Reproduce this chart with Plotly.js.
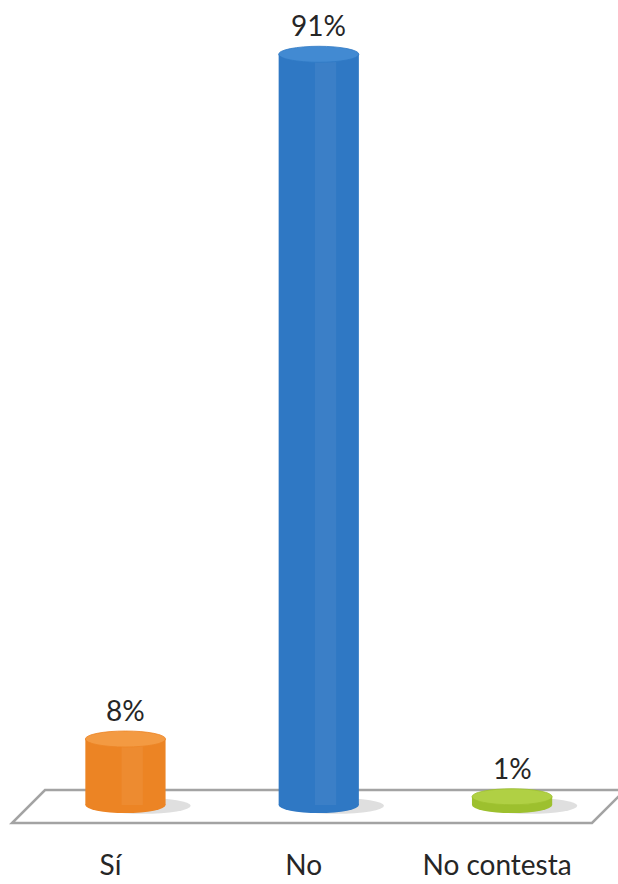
<!DOCTYPE html>
<html>
<head>
<meta charset="utf-8">
<script src="https://cdn.plot.ly/plotly-3.0.1.min.js"></script>
<style>html,body{margin:0;padding:0;background:#fff;}#chart{width:618px;height:884px;}</style>
</head>
<body>
<div id="chart"></div>
<script>
// ---- data ----
const categories = ["Sí", "No", "No contesta"];
const values = [8, 91, 1];
const labels = ["8%", "91%", "1%"];

// ---- styles ----
const bodyColors = ["#ec8424", "#2f78c4", "#9dc02e"];
const topColors  = ["#f39a42", "#428ad2", "#b0d044"];
const xs = categories.map((_, i) => i);
const barW = 0.415;      // in x units
const capH = 0.97;       // ellipse half-height in y units

const W = 618, Hp = 834; // plot-area pixel size (margins l=r=t=0, b=50)
const px = (x) => x / W;
const py = (y) => 1 - y / Hp;

const shapes = [];
// floor (decorative parallelogram)
shapes.push({
  type: "path", xref: "paper", yref: "paper", layer: "below",
  path: `M ${px(45)} ${py(790)} L ${px(625)} ${py(790)} L ${px(592)} ${py(823)} L ${px(12)} ${py(823)} Z`,
  fillcolor: "#ffffff", line: { color: "#a3a3a3", width: 2.5 }
});
// shadows + bottom ellipses
xs.forEach((x, i) => {
  shapes.push({
    type: "circle", xref: "x", yref: "y", layer: "below",
    x0: x - barW / 2 + 0.05, x1: x + barW / 2 + 0.13,
    y0: -capH * 1.1, y1: capH * 0.9,
    fillcolor: "rgba(110,110,110,0.22)", line: { width: 0 }
  });
  shapes.push({
    type: "circle", xref: "x", yref: "y", layer: "below",
    x0: x - barW / 2, x1: x + barW / 2,
    y0: -capH, y1: capH,
    fillcolor: bodyColors[i], line: { width: 0 }
  });
});
// soft highlight band on bodies
xs.forEach((x, i) => {
  shapes.push({
    type: "rect", xref: "x", yref: "y", layer: "above",
    x0: x - 0.02, x1: x + 0.09, y0: 0, y1: values[i],
    fillcolor: "rgba(255,255,255,0.06)", line: { width: 0 }
  });
});
// top caps
xs.forEach((x, i) => {
  shapes.push({
    type: "circle", xref: "x", yref: "y", layer: "above",
    x0: x - barW / 2, x1: x + barW / 2,
    y0: values[i] - capH, y1: values[i] + capH,
    fillcolor: topColors[i], line: { color: bodyColors[i], width: 0.8 }
  });
});

const fontFam = "Lato, 'DejaVu Sans', sans-serif";
const annotations = xs.map((x, i) => ({
  x: x, y: values[i], xref: "x", yref: "y",
  text: labels[i], showarrow: false, yanchor: "bottom", yshift: 10,
  font: { family: fontFam, size: 28, color: "#262626" }
}));

const trace = {
  type: "bar",
  x: xs,
  y: values,
  width: barW,
  marker: { color: bodyColors, line: { width: 0 } },
  hoverinfo: "x+y"
};

const layout = {
  width: 618, height: 884,
  margin: { l: 0, r: 0, t: 0, b: 50 },
  paper_bgcolor: "#ffffff", plot_bgcolor: "rgba(0,0,0,0)",
  showlegend: false,
  xaxis: {
    range: [-0.649, 2.548],
    tickvals: xs, ticktext: categories,
    showgrid: false, zeroline: false, showline: false, ticks: "",
    ticklabelstandoff: 12,
    ticklabelshift: -15,
    tickfont: { family: fontFam, size: 28, color: "#262626" }
  },
  yaxis: { range: [-3.515, 97.58], visible: false, showgrid: false, zeroline: false },
  shapes: shapes,
  annotations: annotations
};

Plotly.newPlot("chart", [trace], layout, { displayModeBar: false, staticPlot: true });
</script>
</body>
</html>
